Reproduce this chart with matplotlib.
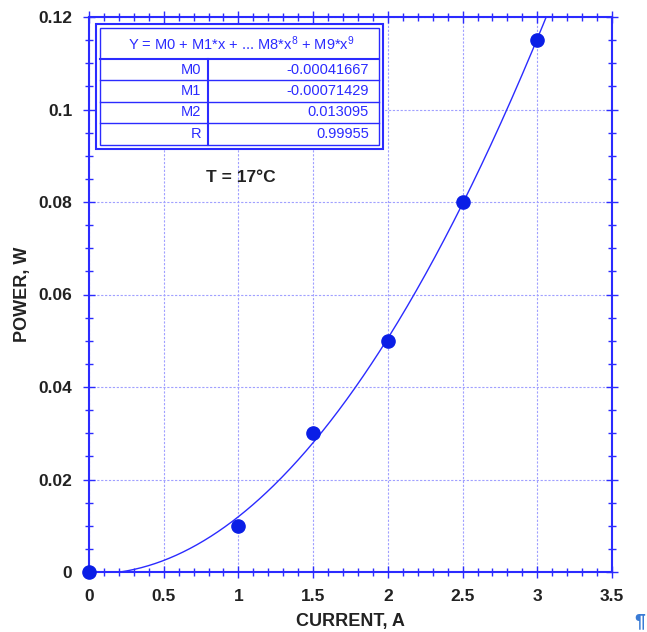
import numpy as np
import matplotlib
matplotlib.use("Agg")
import matplotlib.pyplot as plt
from matplotlib.patches import Rectangle

plt.rcParams['font.family'] = ['Liberation Sans', 'DejaVu Sans']
plt.rcParams['mathtext.fontset'] = 'custom'
plt.rcParams['mathtext.rm'] = 'Liberation Sans'
plt.rcParams['mathtext.it'] = 'Liberation Sans'

# measured points
current = [0, 1, 1.5, 2, 2.5, 3]
power = [0, 0.01, 0.03, 0.05, 0.08, 0.115]

# fit coefficients from the table
coef_names = ["M0", "M1", "M2", "R"]
coef_text = ["-0.00041667", "-0.00071429", "0.013095", "0.99955"]
M0, M1, M2 = -0.00041667, -0.00071429, 0.013095

blue = "#2b2bff"
W, H = 647, 632

fig = plt.figure(figsize=(W / 100, H / 100), dpi=100)
ax = fig.add_axes([89 / W, 1 - 572 / H, (612 - 89) / W, (572 - 17) / H])

xs = np.linspace(0, 3.1, 400)
ys = M0 + M1 * xs + M2 * xs ** 2
ys = np.where(ys < 0, np.nan, ys)
ax.plot(xs, ys, color=blue, lw=1.0)
ax.plot(current, power, 'o', color="#0a1ee6", ms=9.5, clip_on=False, zorder=5)

ax.set_xlim(0, 3.5)
ax.set_ylim(0, 0.12)
ax.set_xticks(np.arange(0, 3.51, 0.5))
ax.set_xticklabels(["0", "0.5", "1", "1.5", "2", "2.5", "3", "3.5"])
ax.set_yticks(np.arange(0, 0.121, 0.02))
ax.set_yticklabels(["0", "0.02", "0.04", "0.06", "0.08", "0.1", "0.12"])
ax.set_xticks(np.arange(0, 3.5, 0.1), minor=True)
ax.set_yticks(np.arange(0, 0.12, 0.005), minor=True)
ax.tick_params(which='both', direction='inout', color=blue, top=True, right=True,
               labelsize=12.5, pad=8)
ax.tick_params(which='major', length=8, width=1)
ax.tick_params(which='minor', length=6, width=1)
for lab in ax.get_xticklabels() + ax.get_yticklabels():
    lab.set_fontweight('bold')
    lab.set_color("#222222")
for s in ax.spines.values():
    s.set_color(blue)
    s.set_linewidth(1.5)
ax.grid(True, which='major', color="#a0a0ff", ls=(0, (2, 1.5)), lw=0.8)

ax.set_xlabel("CURRENT, A", fontsize=13, fontweight='bold', labelpad=7, color="#222222")
ax.set_ylabel("POWER, W", fontsize=13, fontweight='bold', labelpad=5, color="#222222")

# fit table (pixel coords -> axes fraction)
def px(x, y):
    return ax.transAxes.inverted().transform(fig.transFigure.transform((x / W, 1 - y / H)))

def rect(x0, y0, x1, y1, lw):
    a = px(x0, y1)
    b = px(x1, y0)
    ax.add_patch(Rectangle(a, b[0] - a[0], b[1] - a[1], transform=ax.transAxes,
                           fill=True, fc='white', ec=blue, lw=lw, zorder=6, clip_on=False))

def hline(x0, x1, y, lw):
    a, b = px(x0, y), px(x1, y)
    ax.plot([a[0], b[0]], [a[1], b[1]], color=blue, lw=lw, transform=ax.transAxes, zorder=7)

def vline(x, y0, y1, lw):
    a, b = px(x, y0), px(x, y1)
    ax.plot([a[0], b[0]], [a[1], b[1]], color=blue, lw=lw, transform=ax.transAxes, zorder=7)

rect(96, 24, 383, 149, 1.5)
rect(100, 28, 379, 145, 1.0)
hline(100, 379, 59, 1.5)
row_y = [59, 80, 102, 123, 145]
for y in row_y[1:-1]:
    hline(100, 379, y, 1.0)
vline(208, 59, 145, 1.5)

hx, hy = px(241, 44)
ax.text(hx, hy, "Y = M0 + M1*x + ... M8*x$^{8}$ + M9*x$^{9}$", transform=ax.transAxes,
        ha='center', va='center', fontsize=10.5, color=blue, zorder=8)
for i, (n, v) in enumerate(zip(coef_names, coef_text)):
    yc = (row_y[i] + row_y[i + 1]) / 2
    a = px(201, yc)
    b = px(369, yc)
    ax.text(a[0], a[1], n, transform=ax.transAxes, ha='right', va='center',
            fontsize=10.5, color=blue, zorder=8)
    ax.text(b[0], b[1], v, transform=ax.transAxes, ha='right', va='center',
            fontsize=10.5, color=blue, zorder=8)

tx, ty = px(241, 178)
ax.text(tx, ty, "T = 17°C", transform=ax.transAxes, ha='center', va='center',
        fontsize=12.5, fontweight='bold', color="#222222", zorder=8)

fig.text(640 / W, 1 - 622 / H, "¶", color="#3a7bd5", fontsize=14, fontweight='bold',
         ha='center', va='center')

fig.savefig("out.png", dpi=100)
